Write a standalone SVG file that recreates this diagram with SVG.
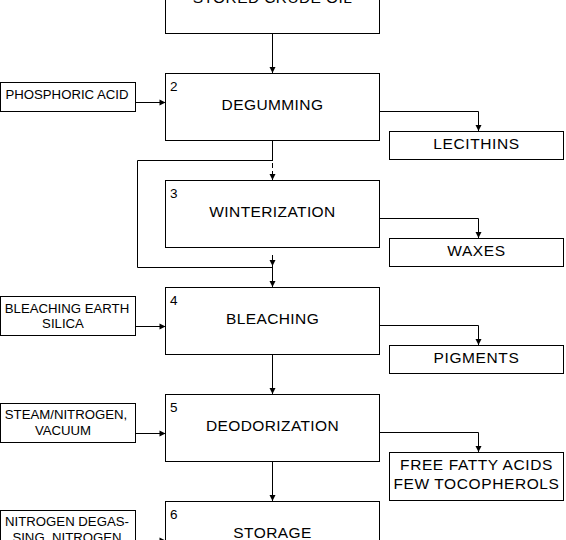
<svg xmlns="http://www.w3.org/2000/svg" width="566" height="540" viewBox="0 0 566 540">
<style>
rect{fill:#fff;stroke:#000;stroke-width:1}
text{font-family:"Liberation Sans",Arial,sans-serif;fill:#000}
.m{font-size:15.5px;text-anchor:middle;letter-spacing:0.4px}
.o{font-size:15.5px;text-anchor:middle;letter-spacing:0.6px}
.s{font-size:13.2px;text-anchor:middle}
.n{font-size:13.5px}
.c{fill:none;stroke:#000;stroke-width:1}
</style>
<defs>
<marker id="a" markerUnits="userSpaceOnUse" markerWidth="8" markerHeight="8" viewBox="0 0 8 8" refX="7" refY="4" orient="auto">
<path d="M1,1 L7,4 L1,7 Z" fill="#000"/>
</marker>
</defs>
<g id="connectors">
<path class="c" d="M272.5,33.5 V73" marker-end="url(#a)"/>
<path class="c" d="M272.5,140.5 V161"/>
<path class="c" d="M272.5,163 V168"/>
<path class="c" d="M272.5,171 V180" marker-end="url(#a)"/>
<path class="c" d="M272.5,160.5 H137.5 V267.5 H272.5"/>
<path class="c" d="M272.5,255 V266" marker-end="url(#a)"/>
<path class="c" d="M272.5,266 V287" marker-end="url(#a)"/>
<path class="c" d="M272.5,354.5 V394" marker-end="url(#a)"/>
<path class="c" d="M272.5,461.5 V501" marker-end="url(#a)"/>
<path class="c" d="M135.5,102.5 H165.5" marker-end="url(#a)"/>
<path class="c" d="M135.5,326.5 H165.5" marker-end="url(#a)"/>
<path class="c" d="M135.5,433.5 H165.5" marker-end="url(#a)"/>
<path class="c" d="M135.5,540.5 H165.5" marker-end="url(#a)"/>
<path class="c" d="M379.5,111.5 H478.5 V131" marker-end="url(#a)"/>
<path class="c" d="M379.5,218.5 H478.5 V238" marker-end="url(#a)"/>
<path class="c" d="M379.5,325.5 H478.5 V345" marker-end="url(#a)"/>
<path class="c" d="M379.5,432.5 H478.5 V452" marker-end="url(#a)"/>
</g>
<g id="n1"><rect x="165.5" y="-33.5" width="214" height="67"/><text class="m" x="272.5" y="3">STORED CRUDE OIL</text></g>
<g id="n2"><rect x="165.5" y="73.5" width="214" height="67"/><text class="n" x="170" y="91">2</text><text class="m" x="272.5" y="109.5">DEGUMMING</text></g>
<g id="n3"><rect x="165.5" y="180.5" width="214" height="67"/><text class="n" x="170" y="198">3</text><text class="m" x="272.5" y="216.5">WINTERIZATION</text></g>
<g id="n4"><rect x="165.5" y="287.5" width="214" height="67"/><text class="n" x="170" y="305">4</text><text class="m" x="272.5" y="323.5">BLEACHING</text></g>
<g id="n5"><rect x="165.5" y="394.5" width="214" height="67"/><text class="n" x="170" y="412">5</text><text class="m" x="272.5" y="430.5">DEODORIZATION</text></g>
<g id="n6"><rect x="165.5" y="501.5" width="214" height="67"/><text class="n" x="170" y="519">6</text><text class="m" x="272.5" y="538">STORAGE</text></g>
<g id="i1"><rect x="0.5" y="82.5" width="135" height="29"/><text class="s" x="67" y="99">PHOSPHORIC ACID</text></g>
<g id="i2"><rect x="0.5" y="296.5" width="135" height="39"/><text class="s" x="67" y="312.5">BLEACHING EARTH</text><text class="s" x="63" y="328">SILICA</text></g>
<g id="i3"><rect x="0.5" y="403.5" width="135" height="39"/><text class="s" x="66" y="419">STEAM/NITROGEN,</text><text class="s" x="63" y="435">VACUUM</text></g>
<g id="i4"><rect x="0.5" y="510.5" width="135" height="39"/><text class="s" x="67" y="526">NITROGEN DEGAS-</text><text class="s" x="67" y="542">SING, NITROGEN</text></g>
<g id="o1"><rect x="389.5" y="131.5" width="174" height="28"/><text class="o" x="476.5" y="149">LECITHINS</text></g>
<g id="o2"><rect x="389.5" y="238.5" width="174" height="28"/><text class="o" x="476.5" y="256">WAXES</text></g>
<g id="o3"><rect x="389.5" y="345.5" width="174" height="28"/><text class="o" x="476.5" y="363">PIGMENTS</text></g>
<g id="o4"><rect x="389.5" y="452.5" width="174" height="48"/><text class="o" x="476.5" y="470">FREE FATTY ACIDS</text><text class="o" x="476.5" y="489">FEW TOCOPHEROLS</text></g>
</svg>
